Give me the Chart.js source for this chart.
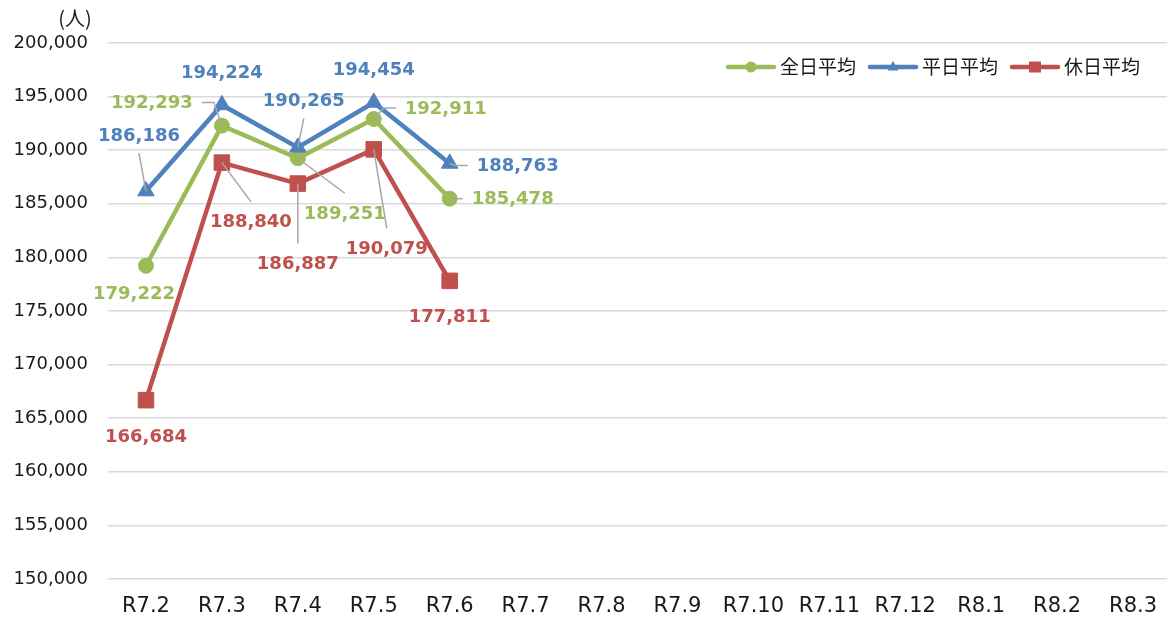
<!DOCTYPE html>
<html><head><meta charset="utf-8">
<script src="https://cdn.jsdelivr.net/npm/chart.js@4/dist/chart.umd.min.js"></script>
<style>html,body{margin:0;padding:0;background:#fff;overflow:hidden;}#wrap{position:relative;width:1171px;height:625px;}</style>
</head><body>
<div id="wrap"><canvas id="c"></canvas></div>
<script>
// ---- data ----
const categories = ['R7.2','R7.3','R7.4','R7.5','R7.6','R7.7','R7.8','R7.9','R7.10','R7.11','R7.12','R8.1','R8.2','R8.3'];
const seriesNames = ['全日平均','平日平均','休日平均'];
const allDayAvg  = [179222,192293,189251,192911,185478,null,null,null,null,null,null,null,null,null];
const weekdayAvg = [186186,194224,190265,194454,188763,null,null,null,null,null,null,null,null,null];
const holidayAvg = [166684,188840,186887,190079,177811,null,null,null,null,null,null,null,null,null];
const yMin = 150000, yMax = 200000, yStep = 5000;
const unitLabel = '(人)';

// ---- styles ----
const colors = ['#9BBB59','#4F81BD','#C0504D'];
const pointStyles = ['circle','triangle','rect'];
const pointRadii = [7.5, 9.5, 11];
// label offsets relative to the point: [dx, dy, leaderType]
const labelOffsets = [
  [[-12,28,0],[-70,-23,'L'],[47,55,'B'],[72,-11,'R'],[63,0,'R']],
  [[-7,-56,'A'],[0,-33,0],[6,-47,'A'],[0,-33,0],[68,2,'R']],
  [[0,36,0],[29,59,'B'],[0,80,'B'],[13,99,'B'],[0,35,0]]
];
const fmt = v => v.toLocaleString('en-US');

const labelPlugin = {
  id: 'dataLabels',
  afterDatasetsDraw(chart) {
    const ctx = chart.ctx;
    ctx.save();
    ctx.font = 'bold 18px "DejaVu Sans"';
    ctx.textAlign = 'center';
    ctx.textBaseline = 'middle';
    chart.data.datasets.forEach((ds, i) => {
      const meta = chart.getDatasetMeta(i);
      ds.data.forEach((v, j) => {
        if (v == null) return;
        const el = meta.data[j];
        const off = labelOffsets[i][j];
        const px = el.x, py = el.y;
        const cx = px + off[0], cy = py + off[1];
        const txt = fmt(v);
        const w = ctx.measureText(txt).width;
        const t = off[2];
        if (t) {
          ctx.strokeStyle = '#a6a6a6';
          ctx.lineWidth = 1.5;
          ctx.beginPath();
          if (t === 'L') {
            const ax = cx + w/2 + 9;
            ctx.moveTo(ax, cy); ctx.lineTo(ax + 12, cy); ctx.lineTo(px, py);
          } else if (t === 'R') {
            const ax = cx - w/2 - 9;
            ctx.moveTo(ax, cy); ctx.lineTo(ax - 12, cy); ctx.lineTo(px, py);
          } else if (t === 'B') {
            ctx.moveTo(cx, cy - 20); ctx.lineTo(px, py);
          } else if (t === 'A') {
            ctx.moveTo(cx, cy + 18); ctx.lineTo(px, py);
          }
          ctx.stroke();
        }
        ctx.fillStyle = colors[i];
        ctx.fillText(txt, cx, cy + 1);
      });
    });
    ctx.restore();
  },
  afterDraw(chart) {
    const ctx = chart.ctx;
    ctx.save();
    // unit label
    ctx.font = '20px "Noto Sans CJK JP"';
    ctx.fillStyle = '#1a1a1a';
    ctx.textAlign = 'center';
    ctx.textBaseline = 'middle';
    ctx.fillText(unitLabel, 75, 18);
    // legend
    ctx.font = '19px "Noto Sans CJK JP"';
    const lineLen = 50, gapTxt = 4, gapItem = 12, rightEdge = 1140, ly = 67;
    const widths = seriesNames.map(n => ctx.measureText(n).width);
    let total = 0;
    widths.forEach((w, k) => { total += lineLen + gapTxt + w + (k ? gapItem : 0); });
    let x = rightEdge - total;
    seriesNames.forEach((name, k) => {
      ctx.strokeStyle = colors[k];
      ctx.lineWidth = 4.5;
      ctx.lineCap = 'round';
      ctx.beginPath(); ctx.moveTo(x + 2, ly); ctx.lineTo(x + lineLen - 2, ly); ctx.stroke();
      ctx.fillStyle = colors[k];
      const mx = x + lineLen/2;
      ctx.beginPath();
      if (k === 0) { ctx.arc(mx, ly, 5.5, 0, Math.PI*2); }
      else if (k === 1) { ctx.moveTo(mx, ly - 6); ctx.lineTo(mx + 5.5, ly + 3.5); ctx.lineTo(mx - 5.5, ly + 3.5); ctx.closePath(); }
      else { ctx.rect(mx - 6, ly - 5.5, 12, 11); }
      ctx.fill();
      ctx.fillStyle = '#1a1a1a';
      ctx.textAlign = 'left';
      ctx.fillText(name, x + lineLen + gapTxt, ly);
      x += lineLen + gapTxt + widths[k] + gapItem;
    });
    ctx.restore();
  }
};

const seriesData = [allDayAvg, weekdayAvg, holidayAvg];
const datasets = seriesData.map((d, i) => ({
  label: seriesNames[i],
  data: d,
  borderColor: colors[i],
  backgroundColor: colors[i],
  borderWidth: 4.5,
  pointStyle: pointStyles[i],
  pointRadius: pointRadii[i],
  pointBorderWidth: 1,
  pointBorderColor: colors[i],
  pointBackgroundColor: colors[i],
  tension: 0,
  clip: false,
  order: 3 - i
}));

new Chart(document.getElementById('c'), {
  type: 'line',
  data: { labels: categories, datasets },
  options: {
    responsive: true,
    maintainAspectRatio: false,
    animation: false,
    devicePixelRatio: 1,
    layout: { autoPadding: false, padding: { top: 43, bottom: 0, left: 0, right: 0 } },
    plugins: { legend: { display: false }, tooltip: { enabled: false } },
    scales: {
      x: {
        offset: true,
        afterFit(scale) { scale.height = 46; scale.paddingLeft = 0; scale.paddingRight = 0; },
        grid: { display: false, drawTicks: false },
        border: { display: false },
        ticks: { autoSkip: false, maxRotation: 0, padding: 15, color: '#1a1a1a', font: { family: 'DejaVu Sans', size: 21 } }
      },
      y: {
        min: yMin, max: yMax,
        afterFit(scale) { scale.width = 108; scale.paddingTop = 0; scale.paddingBottom = 0; },
        grid: { color: '#d9d9d9', lineWidth: 1.5, drawTicks: false },
        border: { display: false },
        ticks: { stepSize: yStep, padding: 20, color: '#1a1a1a', font: { family: 'DejaVu Sans', size: 18 }, callback: v => fmt(v) }
      }
    }
  },
  plugins: [labelPlugin]
});
</script>
</body></html>
